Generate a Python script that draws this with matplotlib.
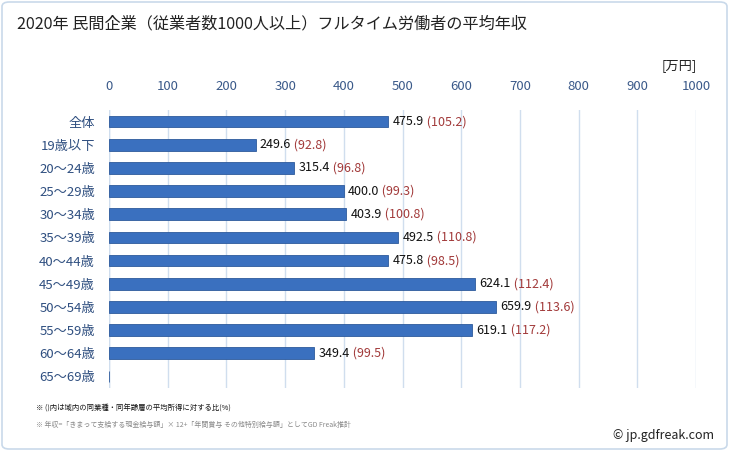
import matplotlib
matplotlib.use("Agg")
import matplotlib.pyplot as plt
from matplotlib.patches import FancyBboxPatch
import numpy as np

plt.rcParams['font.family'] = ['Noto Sans CJK JP', 'DejaVu Sans']

categories = ["全体", "19歳以下", "20〜24歳", "25〜29歳", "30〜34歳", "35〜39歳",
              "40〜44歳", "45〜49歳", "50〜54歳", "55〜59歳", "60〜64歳", "65〜69歳"]
salary = [475.9, 249.6, 315.4, 400.0, 403.9, 492.5, 475.8, 624.1, 659.9, 619.1, 349.4, np.nan]
ratio = [105.2, 92.8, 96.8, 99.3, 100.8, 110.8, 98.5, 112.4, 113.6, 117.2, 99.5, np.nan]
xticks = [0, 100, 200, 300, 400, 500, 600, 700, 800, 900, 1000]

W, H = 729, 451
fig = plt.figure(figsize=(W / 100, H / 100), dpi=100)

# figure border
fig.patches.append(FancyBboxPatch((2 / W, 2 / H), 1 - 4 / W, 1 - 4 / H,
                                  boxstyle="round,pad=0,rounding_size=0.01",
                                  transform=fig.transFigure, fill=False,
                                  edgecolor="#c9d9ea", linewidth=1.2))

ax = fig.add_axes([109 / W, 1 - 388 / H, (696 - 109) / W, (388 - 110) / H])
y = np.arange(len(categories))
vals = np.nan_to_num(salary)
ax.barh(y, vals, height=0.5, color="#3a70bf", edgecolor="#2d5a9c", linewidth=0.6, zorder=3)

for yi, s, r in zip(y, salary, ratio):
    if np.isnan(s):
        continue
    t = ax.annotate(f"{s:.1f}", (s, yi), xytext=(3, 0), textcoords="offset points",
                    va="center", ha="left", fontsize=9, color="#111111", zorder=4)
    ax.annotate(f" ({r:.1f})", xycoords=t, xy=(1, 0.5), va="center", ha="left",
                fontsize=9, color="#a23a3a", zorder=4)

ax.set_xlim(0, 1000)
ax.set_ylim(len(categories) - 0.5, -0.5)
ax.set_xticks(xticks)
ax.xaxis.tick_top()
ax.tick_params(axis="x", length=0, pad=12, labelsize=9.5, labelcolor="#3b5a8a")
ax.set_yticks(y)
ax.set_yticklabels(categories)
ax.tick_params(axis="y", length=0, pad=10, labelsize=9.5, labelcolor="#2f4f80")
ax.grid(axis="x", color="#d0deee", linewidth=1, zorder=0)
for sp in ax.spines.values():
    sp.set_visible(False)
ax.axvline(0, color="#d0deee", linewidth=1, zorder=1)

fig.text(17 / W, 1 - 24 / H, "2020年 民間企業（従業者数1000人以上）フルタイム労働者の平均年収",
         fontsize=11.6, color="#222222", va="center", ha="left")
fig.text(697 / W, 1 - 66 / H, "[万円]", fontsize=9.5, color="#222222", va="center", ha="right")
fig.text(36 / W, 1 - 409 / H, "※ ()内は域内の同業種・同年齢層の平均所得に対する比(%)",
         fontsize=5.3, color="#111111", va="center", ha="left")
fig.text(36 / W, 1 - 425 / H,
         "※ 年収=「きまって支給する現金給与額」× 12+「年間賞与 その他特別給与額」としてGD Freak推計",
         fontsize=5.0, color="#888888", va="center", ha="left")
fig.text(714 / W, 1 - 435 / H, "© jp.gdfreak.com", fontsize=9, color="#222222",
         va="center", ha="right")

fig.savefig("out.png", dpi=100)
